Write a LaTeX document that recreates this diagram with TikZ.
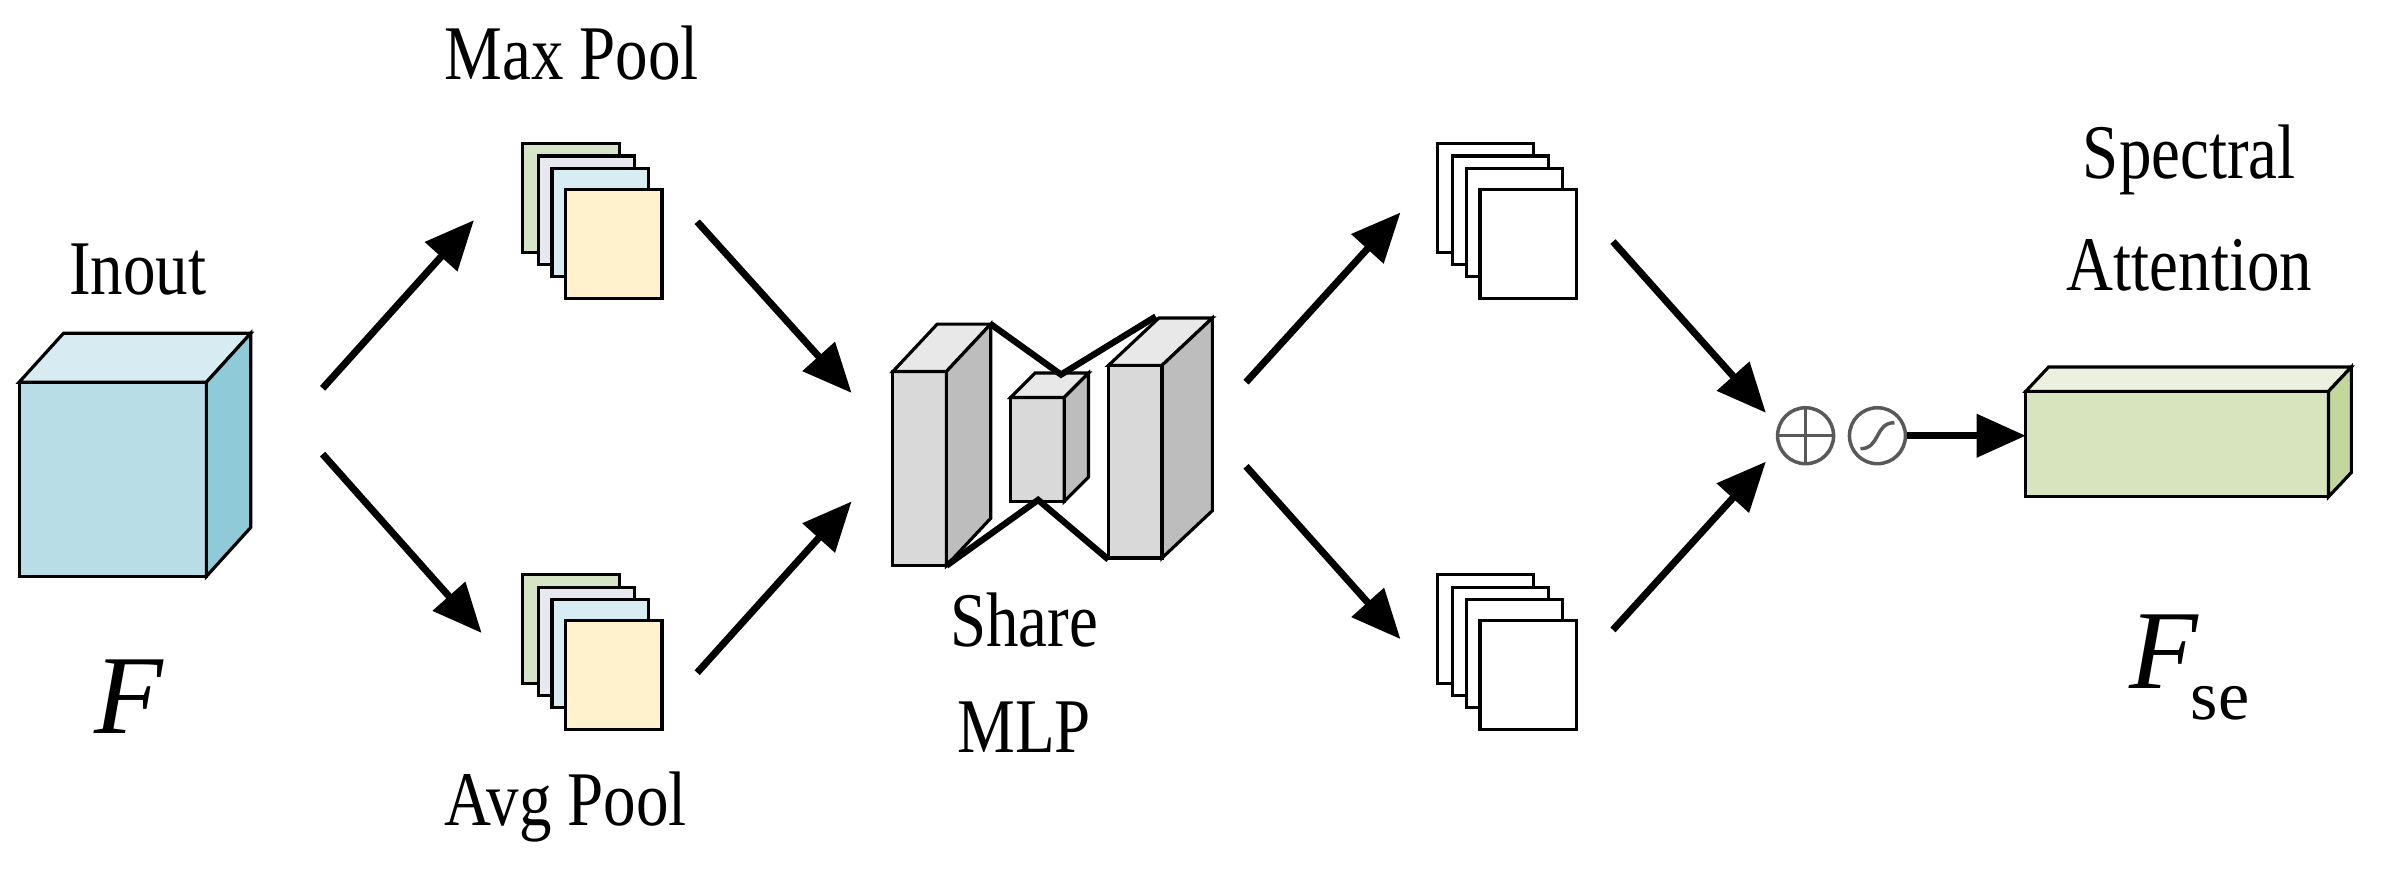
\documentclass[tikz,border=0pt]{standalone}
\usepackage{fontspec}
\setmainfont{Liberation Serif}
\usetikzlibrary{arrows.meta}
\definecolor{cubeF}{HTML}{B8DDE6}\definecolor{cubeT}{HTML}{D6ECF2}\definecolor{cubeS}{HTML}{8ECAD8}
\definecolor{sg}{HTML}{D5E3C6}\definecolor{sl}{HTML}{E8E8F0}\definecolor{sb}{HTML}{D8ECF3}\definecolor{sy}{HTML}{FFF2CC}
\definecolor{gF}{HTML}{D9D9D9}\definecolor{gT}{HTML}{E8E8E8}\definecolor{gS}{HTML}{BDBDBD}
\definecolor{vF}{HTML}{D7E4BD}\definecolor{vT}{HTML}{EBF1DE}\definecolor{vS}{HTML}{C3D69B}
\newcommand\cond[1]{\scalebox{0.84}[1]{#1}}
\begin{document}
\begin{tikzpicture}[x=0.01529cm,y=-0.01529cm,
  lab/.style={font=\fontsize{22pt}{26pt}\selectfont,inner sep=0pt,align=center},
  arr/.style={line width=2pt,-{Triangle[length=14pt,width=12pt]}},
  box/.style={draw=black,line width=0.9pt,line join=miter}]
\useasboundingbox (0,0) rectangle (1560,575);
\newcommand\cuboid[8]{%
  \filldraw[box,fill=#8] (#1,#2) -- (#1+#5,#2+#6) -- (#3+#5,#2+#6) -- (#3,#2) -- cycle;
  \filldraw[box,fill=#7] (#3,#2) -- (#3+#5,#2+#6) -- (#3+#5,#4+#6) -- (#3,#4) -- cycle;}
% input cube
\fill[cubeF] (12.5,250) rectangle (135,377);
\cuboid{12.5}{250}{135}{377}{29}{-32}{cubeS}{cubeT}
\draw[box] (12.5,250) rectangle (135,377);
\node[lab] (inout) at (90,176) {\cond{Inout}};
\node[lab,font=\fontsize{32pt}{36pt}\selectfont\itshape] (F) at (84,456) {F};
% sheet stacks
\newcommand\stack[6]{%
  \filldraw[box,fill=#3] (#1,#2) rectangle ++(63,71);
  \filldraw[box,fill=#4] (#1+10,#2+8) rectangle ++(63,71);
  \filldraw[box,fill=#5] (#1+19,#2+16) rectangle ++(63,71);
  \filldraw[box,fill=#6] (#1+28,#2+30) rectangle ++(63,71);}
\stack{342}{94}{sg}{sl}{sb}{sy}
\stack{342}{376}{sg}{sl}{sb}{sy}
\stack{940}{94}{white}{white}{white}{white}
\stack{940}{376}{white}{white}{white}{white}
\node[lab] (maxp) at (374,35) {\cond{Max Pool}};
\node[lab] (avgp) at (370,528) {\cond{Avg Pool}};
% MLP
\fill[gF] (584,243) rectangle (619,370);
\cuboid{584}{243}{619}{370}{29}{-31}{gS}{gT}
\draw[box] (584,243) rectangle (619,370);
\fill[gF] (661,260) rectangle (696,328);
\cuboid{661}{260}{696}{328}{16}{-16}{gS}{gT}
\draw[box] (661,260) rectangle (696,328);
\fill[gF] (725,239) rectangle (760,365);
\cuboid{725}{239}{760}{365}{33}{-31}{gS}{gT}
\draw[box] (725,239) rectangle (760,365);
\coordinate (m1) at (648,212);\coordinate (m2) at (694,245);\coordinate (m3) at (756,207);
\coordinate (m4) at (619,370);\coordinate (m5) at (679,327);\coordinate (m6) at (725,366);
\draw[line width=1.8pt] (m1)--(m2)--(m3) (m4)--(m5)--(m6);
\node[lab] (mlp) at (670,440) {\cond{Share}\\[4pt]\cond{MLP}};
% arrows
\coordinate (a1s) at (211,254);\coordinate (a1e) at (310,144);
\coordinate (a2s) at (211,297);\coordinate (a2e) at (315,414);
\coordinate (a3s) at (456,145);\coordinate (a3e) at (557,257);
\coordinate (a4s) at (456,440);\coordinate (a4e) at (557,328);
\coordinate (b1s) at (815,250);\coordinate (b1e) at (916,139);
\coordinate (b2s) at (815,305);\coordinate (b2e) at (916,418);
\coordinate (b3s) at (1055,158);\coordinate (b3e) at (1155,270);
\coordinate (b4s) at (1055,412);\coordinate (b4e) at (1155,302);
\foreach \s/\e in {a1s/a1e,a2s/a2e,a3s/a3e,a4s/a4e,b1s/b1e,b2s/b2e,b3s/b3e,b4s/b4e}
  \draw[arr] (\s) -- (\e);
% operators
\node[circle,draw=black!65,line width=1pt,inner sep=0pt,minimum width=0.56cm] (plus) at (1181,285) {};
\draw[black!65,line width=1pt] (plus.north)--(plus.south) (plus.west)--(plus.east);
\node[circle,draw=black!65,line width=1pt,inner sep=0pt,minimum width=0.56cm] (sig) at (1228,285) {};
\draw[black!65,line width=1pt] ([xshift=-0.17cm,yshift=-0.13cm]sig.center) .. controls ([xshift=0.03cm,yshift=-0.13cm]sig.center) and ([xshift=-0.03cm,yshift=0.13cm]sig.center) .. ([xshift=0.17cm,yshift=0.13cm]sig.center);
% output
\fill[vF] (1325,256) rectangle (1523,325);
\cuboid{1325}{256}{1523}{325}{15}{-16}{vS}{vT}
\draw[box] (1325,256) rectangle (1523,325);
\coordinate (outin) at (1325,285);
\draw[arr] (sig.east) -- (outin);
\node[lab] (spec) at (1432,136) {\cond{Spectral}\\[6pt]\cond{Attention}};
\node[lab,anchor=base] (Fse) at (1432,450) {\fontsize{32pt}{36pt}\selectfont\itshape F\hspace{-2pt}\raisebox{-9pt}{\fontsize{20pt}{24pt}\selectfont\upshape se}};
\end{tikzpicture}
\end{document}
